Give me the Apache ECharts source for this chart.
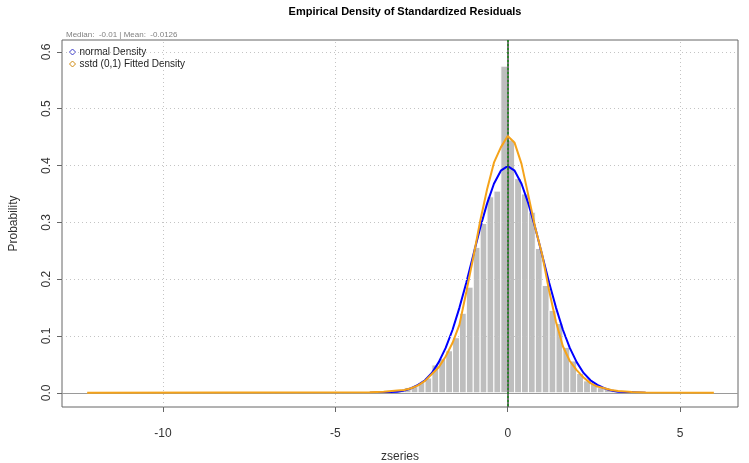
<!DOCTYPE html>
<html>
<head>
<meta charset="utf-8">
<script src="https://cdn.jsdelivr.net/npm/echarts@6/dist/echarts.min.js"></script>
<style>
html,body{margin:0;padding:0;background:#fff;}
#chart{width:749px;height:463px;}
</style>
</head>
<body>
<div id="chart"></div>
<script>
// ---- Data ----
var chartTitle = 'Empirical Density of Standardized Residuals';
var subTitle = 'Median:  -0.01 | Mean:  -0.0126';
var xTicks = [-10, -5, 0, 5];
var yTicks = [0, 0.1, 0.2, 0.3, 0.4, 0.5, 0.6];
var xRange = [-12.93, 6.68];
var yRange = [-0.025, 0.621];

// histogram: left edges of bins (width 0.2) and densities
var binWidth = 0.2;
var binStarts = [-4.0,-3.8,-3.6,-3.4,-3.2,-3.0,-2.8,-2.6,-2.4,-2.2,-2.0,-1.8,-1.6,-1.4,-1.2,-1.0,-0.8,-0.6,-0.4,-0.2,
                 0.0,0.2,0.4,0.6,0.8,1.0,1.2,1.4,1.6,1.8,2.0,2.2,2.4,2.6,2.8,3.0,3.2,3.4,3.6];
var binDensity = [0.002,0.002,0.003,0.004,0.004,0.009,0.011,0.018,0.026,0.049,0.060,0.074,0.097,0.140,0.186,0.256,0.298,0.345,0.355,0.575,
                  0.445,0.377,0.350,0.318,0.254,0.189,0.145,0.122,0.080,0.056,0.034,0.021,0.016,0.009,0.006,0.004,0.003,0.003,0.002];

// normal density curve
var normX = [-4.0,-3.6,-3.2,-3.0,-2.8,-2.6,-2.4,-2.2,-2.0,-1.8,-1.6,-1.4,-1.2,-1.0,-0.8,-0.6,-0.4,-0.2,0.0,
             0.2,0.4,0.6,0.8,1.0,1.2,1.4,1.6,1.8,2.0,2.2,2.4,2.6,2.8,3.0,3.2,3.6,4.0];
var normY = [0.000,0.001,0.002,0.004,0.008,0.014,0.022,0.035,0.054,0.079,0.111,0.150,0.194,0.242,0.290,0.333,0.368,0.391,0.399,
             0.391,0.368,0.333,0.290,0.242,0.194,0.150,0.111,0.079,0.054,0.035,0.022,0.014,0.008,0.004,0.002,0.001,0.000];

// sstd fitted density curve
var sstdX = [-12.2,-4.0,-3.6,-3.2,-3.0,-2.8,-2.6,-2.4,-2.2,-2.0,-1.8,-1.6,-1.4,-1.2,-1.0,-0.8,-0.6,-0.4,-0.2,0.0,
             0.2,0.4,0.6,0.8,1.0,1.2,1.4,1.6,1.8,2.0,2.2,2.4,2.6,2.8,3.0,3.2,3.6,4.0,5.98];
var sstdY = [0.000,0.001,0.002,0.004,0.005,0.008,0.013,0.021,0.033,0.045,0.064,0.088,0.120,0.178,0.238,0.302,0.358,0.405,0.432,0.452,
             0.440,0.403,0.347,0.290,0.243,0.180,0.125,0.082,0.056,0.040,0.027,0.017,0.011,0.008,0.005,0.003,0.0015,0.0005,0.000];

var normName = 'normal Density';
var sstdName = 'sstd (0,1) Fitted Density';

// ---- build ----
function zip(xs, ys){ return xs.map(function(x,i){ return [x, ys[i]]; }); }
var histData = binStarts.map(function(s,i){ return [s, s + binWidth, binDensity[i]]; });

var gridMarks = [];
xTicks.forEach(function(v){ if (v !== 0) gridMarks.push({xAxis: v}); });
yTicks.forEach(function(v){ if (v !== 0) gridMarks.push({yAxis: v}); });

var chart = echarts.init(document.getElementById('chart'), null, {renderer: 'canvas'});
var font = 'Liberation Sans, Arial, Helvetica, sans-serif';
chart.setOption({
  animation: false,
  backgroundColor: '#ffffff',
  textStyle: {fontFamily: font},
  title: [
    {text: chartTitle, left: 400, top: 1, textAlign: 'center',
     textStyle: {fontSize: 11, fontWeight: 'bold', color: '#000', fontFamily: font}},
    {text: subTitle, left: 61, top: 26,
     textStyle: {fontSize: 8, fontWeight: 'normal', color: '#808080', fontFamily: font}}
  ],
  legend: {
    orient: 'vertical', left: 64, top: 42, itemWidth: 6, itemHeight: 6, itemGap: 2,
    textStyle: {fontSize: 10, color: '#222', fontFamily: font, padding: [0,0,0,-1]},
    data: [
      {name: normName, icon: 'diamond', itemStyle: {color: 'transparent', borderColor: '#3a3acc', borderWidth: 1}},
      {name: sstdName, icon: 'diamond', itemStyle: {color: 'transparent', borderColor: '#d08a10', borderWidth: 1}}
    ]
  },
  grid: {left: 62, right: 11, top: 40, bottom: 56, show: true, borderColor: '#666', borderWidth: 1,
         backgroundColor: 'transparent', outerBoundsMode: 'none', containLabel: false},
  xAxis: {
    type: 'value', min: xRange[0], max: xRange[1],
    name: 'zseries', nameLocation: 'middle', nameGap: 44,
    nameTextStyle: {fontSize: 12, color: '#333', fontFamily: font},
    axisLine: {show: false, onZero: false},
    axisTick: {show: true, length: 5, inside: false, customValues: xTicks, lineStyle: {color: '#666'}},
    axisLabel: {customValues: xTicks, margin: 21, fontSize: 12, color: '#333', fontFamily: font},
    splitLine: {show: false}
  },
  yAxis: {
    type: 'value', min: yRange[0], max: yRange[1],
    name: 'Probability', nameLocation: 'middle', nameGap: 42, nameRotate: 90,
    nameTextStyle: {fontSize: 12, color: '#333', fontFamily: font},
    axisLine: {show: false, onZero: false},
    axisTick: {show: true, length: 5, customValues: yTicks, lineStyle: {color: '#666'}},
    axisLabel: {customValues: yTicks, rotate: 90, margin: 9, fontSize: 12, color: '#333', fontFamily: font,
                formatter: function(v){ return v.toFixed(1); }},
    splitLine: {show: false}
  },
  series: [
    {
      type: 'line', name: 'grid', data: [], silent: true, z: 1,
      markLine: {
        silent: true, symbol: 'none', label: {show: false},
        lineStyle: {color: '#c4c4c4', type: [1, 3], width: 1},
        data: gridMarks
      }
    },
    {
      type: 'custom', name: 'hist', z: 2,
      data: histData,
      encode: {x: [0, 1], y: 2},
      renderItem: function(params, api){
        var p0 = api.coord([api.value(0), api.value(2)]);
        var p1 = api.coord([api.value(1), 0]);
        return {type: 'rect', shape: {x: p0[0], y: p0[1], width: p1[0]-p0[0], height: p1[1]-p0[1]},
                style: {fill: '#bebebe', stroke: '#ffffff', lineWidth: 1}};
      }
    },
    {
      type: 'line', name: 'zero', data: [], silent: true, z: 3,
      markLine: {
        silent: true, symbol: 'none', label: {show: false},
        lineStyle: {color: '#9a9a9a', type: 'solid', width: 1},
        data: [{yAxis: 0}]
      }
    },
    {
      type: 'line', name: normName, data: zip(normX, normY), showSymbol: false, z: 4,
      lineStyle: {color: '#0000ff', width: 2}, itemStyle: {color: '#0000ff'}
    },
    {
      type: 'line', name: sstdName, data: zip(sstdX, sstdY), showSymbol: false, z: 5,
      lineStyle: {color: '#f5a31a', width: 2}, itemStyle: {color: '#f5a31a'}
    },
    {
      type: 'line', name: 'vline', data: [], silent: true, z: 6,
      markLine: {
        silent: true, symbol: 'none', label: {show: false},
        data: [
          [{coord: [0, yRange[1]], lineStyle: {color: '#444', type: 'solid', width: 1.5}}, {coord: [0, yRange[0]]}],
          [{coord: [0, yRange[1]], lineStyle: {color: '#1a8a1a', type: [2, 2], width: 1.5}}, {coord: [0, yRange[0]]}]
        ]
      }
    }
  ]
});
</script>
</body>
</html>
